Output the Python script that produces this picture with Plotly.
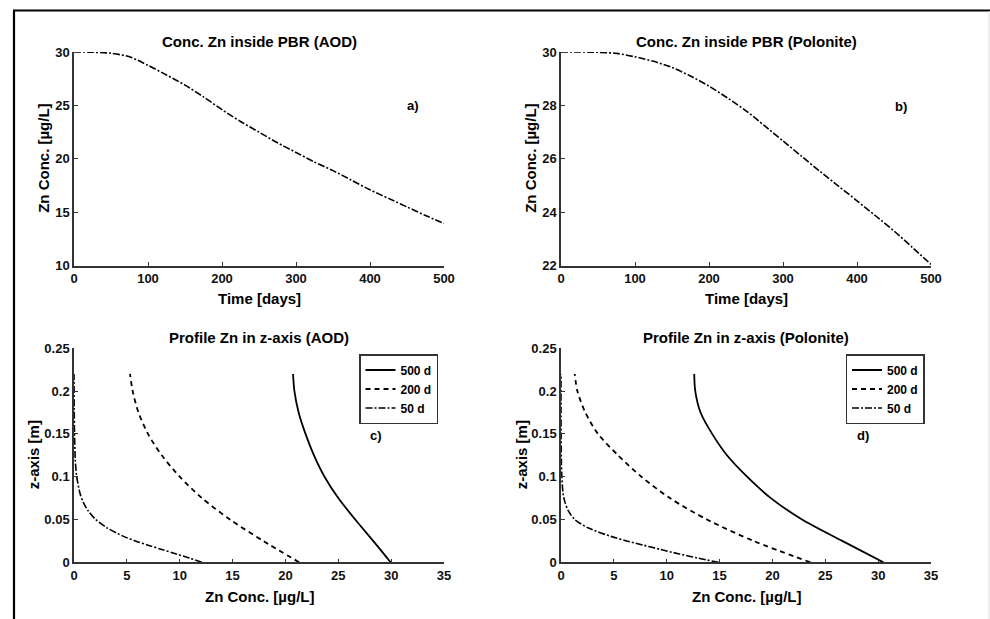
import plotly.graph_objects as go

# ---------------- data ----------------
time_days = [0, 25, 50, 75, 100, 125, 150, 175, 200, 225, 250, 275, 300, 325, 350, 375, 400, 425, 450, 475, 500]
zn_aod = [30.0, 29.98, 29.88, 29.55, 28.75, 27.85, 26.9, 25.8, 24.6, 23.5, 22.5, 21.5, 20.6, 19.7, 18.9, 18.0, 17.1, 16.3, 15.5, 14.7, 13.95]
zn_polonite = [30.0, 30.0, 29.99, 29.95, 29.82, 29.65, 29.42, 29.1, 28.72, 28.28, 27.8, 27.24, 26.67, 26.1, 25.53, 24.98, 24.43, 23.87, 23.3, 22.68, 22.05]

z_levels = [0, 0.025, 0.05, 0.075, 0.1, 0.125, 0.15, 0.175, 0.2, 0.22]
aod_500d = [29.95, 28.3, 26.6, 25.0, 23.7, 22.7, 21.9, 21.25, 20.85, 20.72]
aod_200d = [21.3, 17.9, 14.75, 12.1, 10.0, 8.3, 7.0, 6.1, 5.55, 5.3]
pol_500d = [30.5, 26.6, 22.8, 19.85, 17.6, 15.7, 14.3, 13.2, 12.7, 12.6]
pol_200d = [23.6, 18.2, 13.8, 10.3, 7.6, 5.4, 3.5, 2.3, 1.55, 1.3]

z_fine = [0, 0.005, 0.01, 0.015, 0.02, 0.025, 0.03, 0.04, 0.05, 0.06, 0.07, 0.08, 0.1, 0.12, 0.15, 0.18, 0.22]
aod_50d = [12.1, 10.9, 9.6, 8.3, 7.0, 5.8, 4.75, 3.15, 2.05, 1.35, 0.88, 0.58, 0.26, 0.12, 0.05, 0.02, 0.0]
pol_50d = [14.9, 12.9, 11.1, 9.4, 7.8, 6.2, 4.8, 2.6, 1.3, 0.7, 0.38, 0.2, 0.08, 0.03, 0.01, 0.0, 0.0]

titles = ["Conc. Zn inside PBR (AOD)", "Conc. Zn inside PBR (Polonite)",
          "Profile Zn in z-axis (AOD)", "Profile Zn in z-axis (Polonite)"]
panel_labels = ["a)", "b)", "c)", "d)"]
legend_names = ["500 d", "200 d", "50 d"]

# ---------------- layout geometry ----------------
W, H = 990, 619
FONT = "Liberation Sans, Arial, sans-serif"
AX = "#333333"

def px_x(p):
    return p / W

def px_y(p):
    return 1 - p / H

colx = [(74, 444), (561, 931)]
rowy = [(52, 265.7), (348.3, 562.3)]

DASHDOT = "7px,2px,2px,2px"
DASH = "5px,4px"

def line(dash=None, width=1.7):
    d = dict(color="black", width=width, shape="spline", smoothing=0.8)
    if dash:
        d["dash"] = dash
    return d

fig = go.Figure()

# top panels
fig.add_trace(go.Scatter(x=time_days, y=zn_aod, mode="lines", showlegend=False,
                         line=line(DASHDOT, 1.6), xaxis="x", yaxis="y"))
fig.add_trace(go.Scatter(x=time_days, y=zn_polonite, mode="lines", showlegend=False,
                         line=line(DASHDOT, 1.6), xaxis="x2", yaxis="y2"))

# bottom-left
fig.add_trace(go.Scatter(x=aod_500d, y=z_levels, mode="lines", name=legend_names[0], legend="legend",
                         line=line(None, 1.8), xaxis="x3", yaxis="y3"))
fig.add_trace(go.Scatter(x=aod_200d, y=z_levels, mode="lines", name=legend_names[1], legend="legend",
                         line=line(DASH, 1.8), xaxis="x3", yaxis="y3"))
fig.add_trace(go.Scatter(x=aod_50d, y=z_fine, mode="lines", name=legend_names[2], legend="legend",
                         line=line(DASHDOT, 1.6), xaxis="x3", yaxis="y3"))
# bottom-right
fig.add_trace(go.Scatter(x=pol_500d, y=z_levels, mode="lines", name=legend_names[0], legend="legend2",
                         line=line(None, 1.8), xaxis="x4", yaxis="y4"))
fig.add_trace(go.Scatter(x=pol_200d, y=z_levels, mode="lines", name=legend_names[1], legend="legend2",
                         line=line(DASH, 1.8), xaxis="x4", yaxis="y4"))
fig.add_trace(go.Scatter(x=pol_50d, y=z_fine, mode="lines", name=legend_names[2], legend="legend2",
                         line=line(DASHDOT, 1.6), xaxis="x4", yaxis="y4"))

tickfont = dict(family=FONT, size=13, color="#111111", weight="bold")

def ax(domain, rng, dtick, anchor):
    return dict(domain=domain, range=rng, dtick=dtick, tick0=0, anchor=anchor,
                showline=True, linecolor=AX, linewidth=1.5, mirror=False,
                ticks="inside", ticklen=4, tickwidth=1.3, tickcolor=AX,
                showgrid=False, zeroline=False, tickfont=tickfont, automargin=False,
                fixedrange=True)

xd = [[px_x(a), px_x(b)] for a, b in colx]
yd = [[px_y(b), px_y(a)] for a, b in rowy]

layout_axes = dict(
    xaxis=ax(xd[0], [0, 500], 100, "y"),
    yaxis=ax(yd[0], [10, 30], 5, "x"),
    xaxis2=ax(xd[1], [0, 500], 100, "y2"),
    yaxis2=ax(yd[0], [22, 30], 2, "x2"),
    xaxis3=ax(xd[0], [0, 35], 5, "y3"),
    yaxis3=ax(yd[1], [0, 0.25], 0.05, "x3"),
    xaxis4=ax(xd[1], [0, 35], 5, "y4"),
    yaxis4=ax(yd[1], [0, 0.25], 0.05, "x4"),
)

ann = []
titlefont = dict(family=FONT, size=15, color="black", weight="bold")
title_pos = [(0, 41.7), (1, 41.7), (0, 337.7), (1, 337.7)]
for i, (c, yp) in enumerate(title_pos):
    ann.append(dict(text=titles[i], x=(xd[c][0] + xd[c][1]) / 2, y=px_y(yp),
                    xref="paper", yref="paper", showarrow=False, font=titlefont,
                    xanchor="center", yanchor="middle"))

# axis titles
for c in range(2):
    ann.append(dict(text="Time [days]", x=(xd[c][0] + xd[c][1]) / 2, y=px_y(298.7),
                    xref="paper", yref="paper", showarrow=False, font=titlefont,
                    xanchor="center", yanchor="middle"))
    ann.append(dict(text="Zn Conc. [µg/L]", x=(xd[c][0] + xd[c][1]) / 2, y=px_y(596),
                    xref="paper", yref="paper", showarrow=False, font=titlefont,
                    xanchor="center", yanchor="middle"))
ytitle_x = [(44, 0, "Zn Conc. [µg/L]"), (531, 0, "Zn Conc. [µg/L]"),
            (33, 1, "z-axis [m]"), (521, 1, "z-axis [m]")]
for xp, r, t in ytitle_x:
    ann.append(dict(text=t, x=px_x(xp), y=(yd[r][0] + yd[r][1]) / 2, textangle=-90,
                    xref="paper", yref="paper", showarrow=False, font=titlefont,
                    xanchor="center", yanchor="middle"))

# panel labels
lab_pos = [("x", "y", 458, 25), ("x2", "y2", 459, 27.95), ("x3", "y3", 28.6, 0.148), ("x4", "y4", 28.6, 0.148)]
labfont = dict(family=FONT, size=13, color="black", weight="bold")
for i, (xr, yr, xv, yv) in enumerate(lab_pos):
    ann.append(dict(text=panel_labels[i], x=xv, y=yv, xref=xr, yref=yr, showarrow=False,
                    font=labfont, xanchor="center", yanchor="middle"))

legfont = dict(family=FONT, size=12, color="black", weight="bold")
leg_common = dict(bgcolor="white", bordercolor="#333333", borderwidth=1.5, font=legfont,
                  itemwidth=30, xanchor="right", yanchor="top", tracegroupgap=0,
                  itemclick=False, itemdoubleclick=False)

# outer frame
shapes = [
    dict(type="line", xref="paper", yref="paper", x0=px_x(14), x1=px_x(14), y0=px_y(10.5), y1=px_y(625),
         line=dict(color="black", width=2.2)),
    dict(type="line", xref="paper", yref="paper", x0=px_x(13), x1=px_x(995), y0=px_y(10.5), y1=px_y(10.5),
         line=dict(color="black", width=2.2)),
    dict(type="line", xref="paper", yref="paper", x0=px_x(989), x1=px_x(989), y0=px_y(11), y1=px_y(625),
         line=dict(color="#dddddd", width=1)),
]

fig.update_layout(
    width=W, height=H,
    margin=dict(l=0, r=0, t=0, b=0),
    paper_bgcolor="white", plot_bgcolor="white",
    font=dict(family=FONT, color="black"),
    annotations=ann,
    shapes=shapes,
    legend=dict(x=px_x(438), y=px_y(354), **leg_common),
    legend2=dict(x=px_x(924.5), y=px_y(354), **leg_common),
    **layout_axes,
)

fig.write_html("out.html", config={"displayModeBar": False},
               post_script="document.body.style.margin='0';document.body.style.overflow='hidden';")
